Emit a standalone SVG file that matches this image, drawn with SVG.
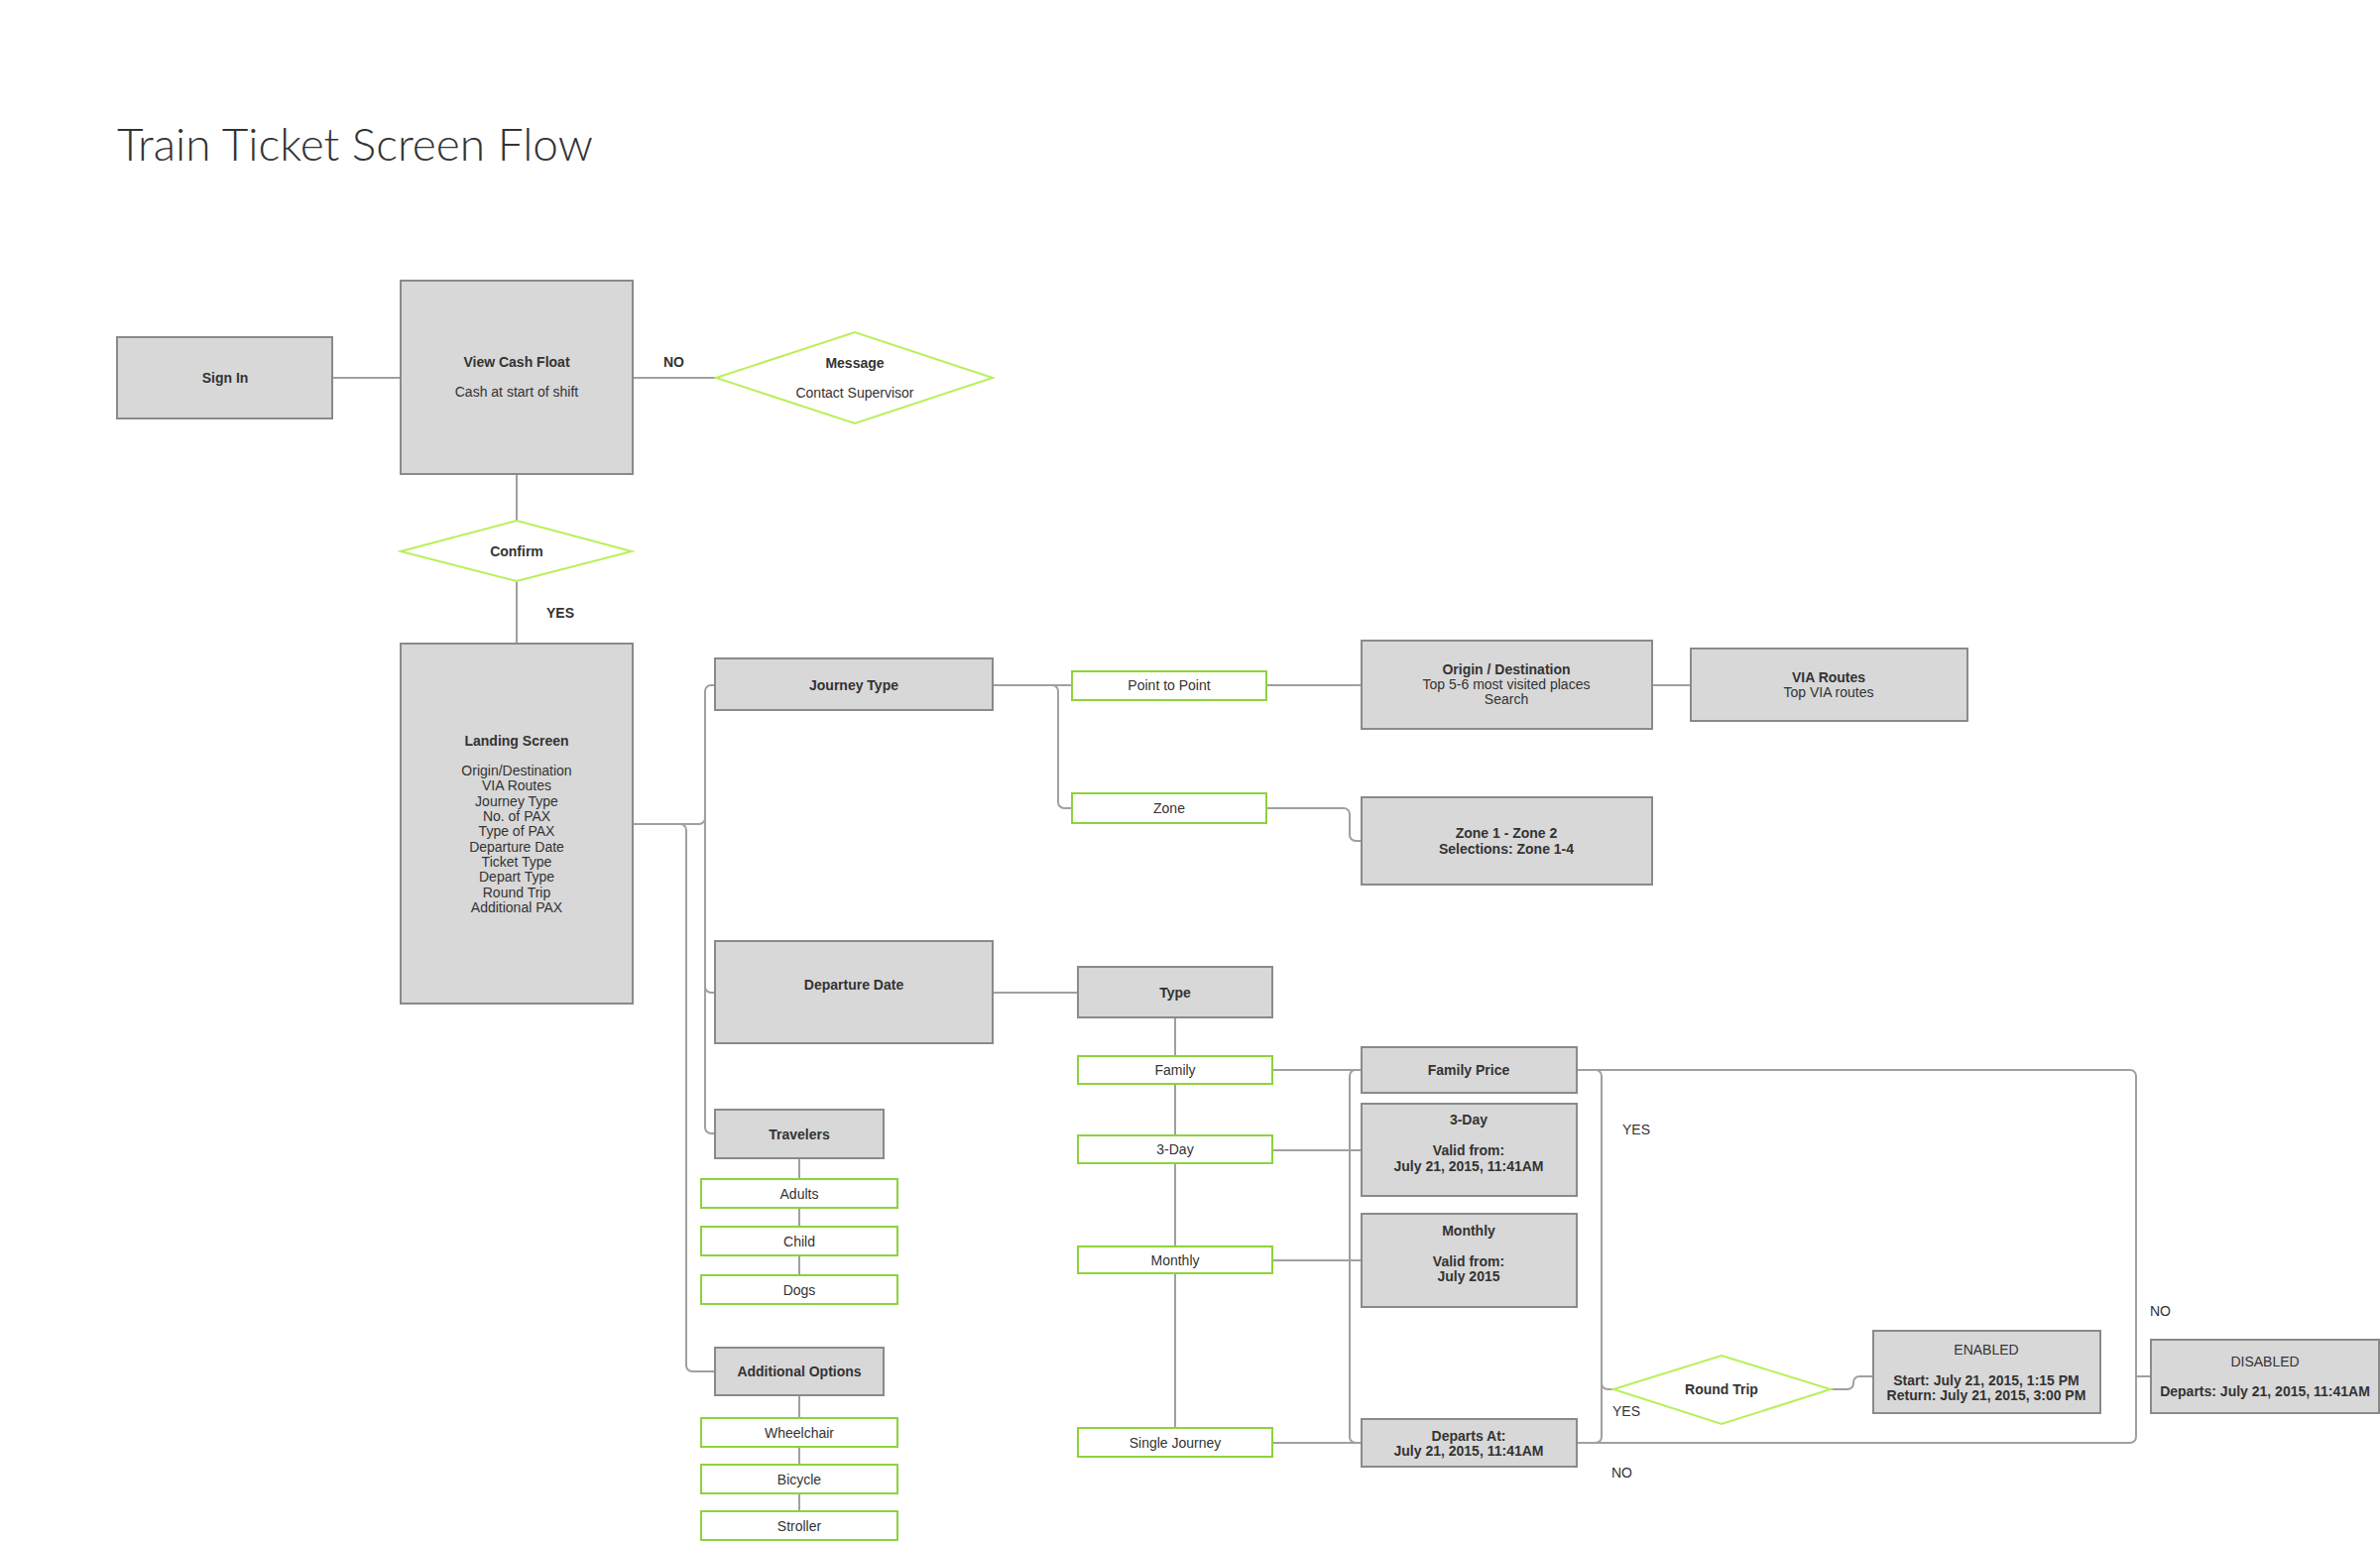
<svg xmlns="http://www.w3.org/2000/svg" width="2400" height="1555" viewBox="0 0 2400 1555">
<style>
.b{fill:#d8d8d8;stroke:#8a8a8a;stroke-width:2}
.g{fill:#fff;stroke:#8dd33a;stroke-width:2}
.d{fill:#fff;stroke:#b8f05a;stroke-width:2}
.c{fill:none;stroke:#a0a0a0;stroke-width:2}
text{font-family:"Liberation Sans",Arial,sans-serif;font-size:14px;fill:#333;text-anchor:middle}
.t{font-weight:bold}
.l{text-anchor:start}
</style>
<rect width="2400" height="1555" fill="#fff"/>
<text x="118" y="162" class="l" style="font-family:Lato,sans-serif;font-size:46px;font-weight:300;fill:#333">Train Ticket Screen Flow</text>
<g id="connectors">
<path class="c" d="M335 381H404M638 381H722M521 478V525M521 586V649"/>
<path class="c" d="M638 831H705a6 6 0 0 0 6-6V697a6 6 0 0 1 6-6h4M711 825V995a6 6 0 0 0 6 6h4M711 831V1137a6 6 0 0 0 6 6h4M638 831H686a6 6 0 0 1 6 6V1377a6 6 0 0 0 6 6h23"/>
<path class="c" d="M806 1168V1189M806 1218V1237M806 1266V1286M806 1407V1430M806 1459V1477M806 1506V1524"/>
<path class="c" d="M1001 691H1081M1061 691a6 6 0 0 1 6 6V809a6 6 0 0 0 6 6h8M1277 691H1373M1666 691H1705M1277 815H1355a6 6 0 0 1 6 6V842a6 6 0 0 0 6 6h6"/>
<path class="c" d="M1001 1001H1087M1185 1026V1065M1185 1093V1145M1185 1173V1257M1185 1284V1440"/>
<path class="c" d="M1283 1079H1373M1283 1160H1373M1283 1271H1373M1283 1455H1373M1367 1079a6 6 0 0 0 -6 6V1449a6 6 0 0 0 6 6"/>
<path class="c" d="M1590 1079H2148a6 6 0 0 1 6 6V1449a6 6 0 0 1 -6 6H1590M2154 1388h15M1609 1079a6 6 0 0 1 6 6V1449a6 6 0 0 1 -6 6M1615 1395a6 6 0 0 0 6 6h6M1846 1401H1863a6 6 0 0 0 6-6V1394a6 6 0 0 1 6-6h14"/>
</g>
<g id="sign-in"><rect class="b" x="118" y="340" width="217" height="82"/><text x="227" y="386" class="t">Sign In</text></g>
<g id="view-cash-float"><rect class="b" x="404" y="283" width="234" height="195"/><text x="521" y="370" class="t">View Cash Float</text><text x="521" y="400">Cash at start of shift</text></g>
<g id="message"><polygon class="d" points="722,381 862,335 1001,381 862,427"/><text x="862" y="371" class="t">Message</text><text x="862" y="401">Contact Supervisor</text></g>
<text x="669" y="370" class="t l">NO</text>
<g id="confirm"><polygon class="d" points="404,556 521,525 637,556 521,586"/><text x="521" y="561" class="t">Confirm</text></g>
<text x="551" y="623" class="t l">YES</text>
<g id="landing-screen"><rect class="b" x="404" y="649" width="234" height="363"/>
<text x="521" y="752" class="t">Landing Screen</text>
<text x="521" y="782">Origin/Destination</text><text x="521" y="797">VIA Routes</text><text x="521" y="813">Journey Type</text><text x="521" y="828">No. of PAX</text><text x="521" y="843">Type of PAX</text><text x="521" y="859">Departure Date</text><text x="521" y="874">Ticket Type</text><text x="521" y="889">Depart Type</text><text x="521" y="905">Round Trip</text><text x="521" y="920">Additional PAX</text></g>
<g id="journey-type"><rect class="b" x="721" y="664" width="280" height="52"/><text x="861" y="696" class="t">Journey Type</text></g>
<g id="point-to-point"><rect class="g" x="1081" y="677" width="196" height="29"/><text x="1179" y="696">Point to Point</text></g>
<g id="zone"><rect class="g" x="1081" y="800" width="196" height="30"/><text x="1179" y="820">Zone</text></g>
<g id="origin-destination"><rect class="b" x="1373" y="646" width="293" height="89"/><text x="1519" y="680" class="t">Origin / Destination</text><text x="1519" y="695">Top 5-6 most visited places</text><text x="1519" y="710">Search</text></g>
<g id="via-routes"><rect class="b" x="1705" y="654" width="279" height="73"/><text x="1844" y="688" class="t">VIA Routes</text><text x="1844" y="703">Top VIA routes</text></g>
<g id="zone-selection"><rect class="b" x="1373" y="804" width="293" height="88"/><text x="1519" y="845" class="t">Zone 1 - Zone 2</text><text x="1519" y="861" class="t">Selections: Zone 1-4</text></g>
<g id="departure-date"><rect class="b" x="721" y="949" width="280" height="103"/><text x="861" y="998" class="t">Departure Date</text></g>
<g id="type"><rect class="b" x="1087" y="975" width="196" height="51"/><text x="1185" y="1006" class="t">Type</text></g>
<g id="family"><rect class="g" x="1087" y="1065" width="196" height="28"/><text x="1185" y="1084">Family</text></g>
<g id="three-day"><rect class="g" x="1087" y="1145" width="196" height="28"/><text x="1185" y="1164">3-Day</text></g>
<g id="monthly"><rect class="g" x="1087" y="1257" width="196" height="27"/><text x="1185" y="1276">Monthly</text></g>
<g id="single-journey"><rect class="g" x="1087" y="1440" width="196" height="29"/><text x="1185" y="1460">Single Journey</text></g>
<g id="family-price"><rect class="b" x="1373" y="1056" width="217" height="46"/><text x="1481" y="1084" class="t">Family Price</text></g>
<g id="three-day-box"><rect class="b" x="1373" y="1113" width="217" height="93"/><text x="1481" y="1134" class="t">3-Day</text><text x="1481" y="1165" class="t">Valid from:</text><text x="1481" y="1181" class="t">July 21, 2015, 11:41AM</text></g>
<g id="monthly-box"><rect class="b" x="1373" y="1224" width="217" height="94"/><text x="1481" y="1246" class="t">Monthly</text><text x="1481" y="1277" class="t">Valid from:</text><text x="1481" y="1292" class="t">July 2015</text></g>
<g id="departs-at"><rect class="b" x="1373" y="1431" width="217" height="48"/><text x="1481" y="1453" class="t">Departs At:</text><text x="1481" y="1468" class="t">July 21, 2015, 11:41AM</text></g>
<g id="round-trip"><polygon class="d" points="1627,1401 1736,1367 1846,1401 1736,1436"/><text x="1736" y="1406" class="t">Round Trip</text></g>
<g id="enabled"><rect class="b" x="1889" y="1342" width="229" height="83"/><text x="2003" y="1366">ENABLED</text><text x="2003" y="1397" class="t">Start: July 21, 2015, 1:15 PM</text><text x="2003" y="1412" class="t">Return: July 21, 2015, 3:00 PM</text></g>
<g id="disabled"><rect class="b" x="2169" y="1351" width="230" height="74"/><text x="2284" y="1378">DISABLED</text><text x="2284" y="1408" class="t">Departs: July 21, 2015, 11:41AM</text></g>
<text x="1636" y="1144" class="l">YES</text>
<text x="2168" y="1327" class="l">NO</text>
<text x="1626" y="1428" class="l">YES</text>
<text x="1625" y="1490" class="l">NO</text>
<g id="travelers"><rect class="b" x="721" y="1119" width="170" height="49"/><text x="806" y="1149" class="t">Travelers</text></g>
<g id="adults"><rect class="g" x="707" y="1189" width="198" height="29"/><text x="806" y="1209">Adults</text></g>
<g id="child"><rect class="g" x="707" y="1237" width="198" height="29"/><text x="806" y="1257">Child</text></g>
<g id="dogs"><rect class="g" x="707" y="1286" width="198" height="29"/><text x="806" y="1306">Dogs</text></g>
<g id="additional-options"><rect class="b" x="721" y="1359" width="170" height="48"/><text x="806" y="1388" class="t">Additional Options</text></g>
<g id="wheelchair"><rect class="g" x="707" y="1430" width="198" height="29"/><text x="806" y="1450">Wheelchair</text></g>
<g id="bicycle"><rect class="g" x="707" y="1477" width="198" height="29"/><text x="806" y="1497">Bicycle</text></g>
<g id="stroller"><rect class="g" x="707" y="1524" width="198" height="29"/><text x="806" y="1544">Stroller</text></g>
</svg>
